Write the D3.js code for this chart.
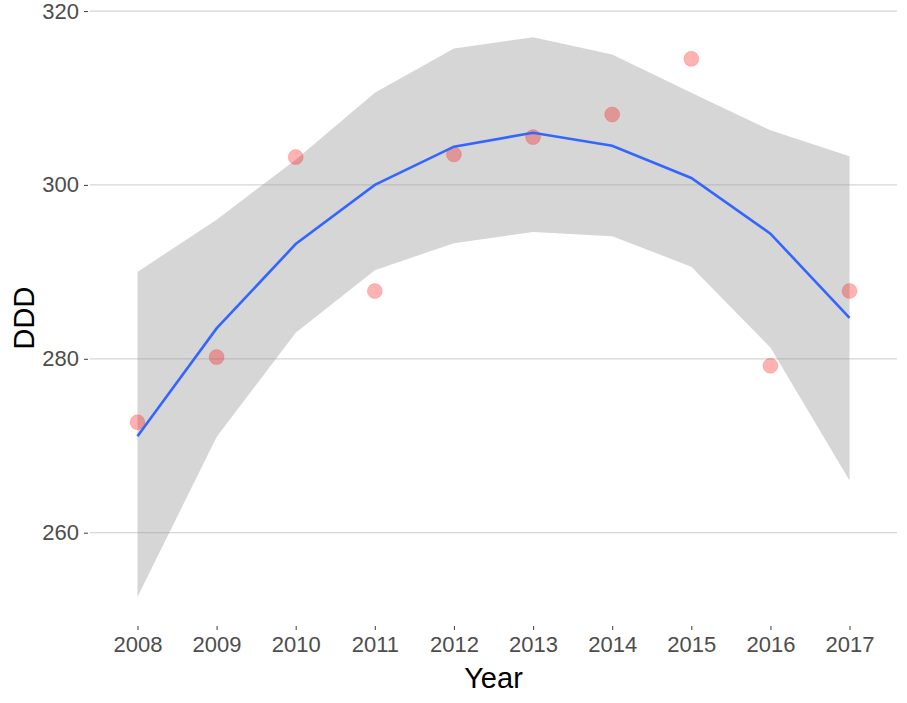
<!DOCTYPE html>
<html>
<head>
<meta charset="utf-8">
<script src="https://cdn.jsdelivr.net/npm/d3@7"></script>
<style>
  body { margin: 0; background: #fff; }
  text { font-family: "Liberation Sans", Arial, sans-serif; }
</style>
</head>
<body>
<div id="chart"></div>
<script>
// data
var years = ["2008", "2009", "2010", "2011", "2012", "2013", "2014", "2015", "2016", "2017"];
var ddd = [272.7, 280.2, 303.2, 287.8, 303.5, 305.5, 308.1, 314.5, 279.2, 287.8];
var fitLine = [271.1, 283.5, 293.2, 300.0, 304.4, 306.0, 304.5, 300.8, 294.4, 284.7];
var fitUpper = [290.0, 296.0, 302.9, 310.6, 315.7, 317.0, 315.0, 310.6, 306.3, 303.3];
var fitLower = [252.6, 271.0, 283.0, 290.2, 293.3, 294.6, 294.1, 290.6, 281.3, 266.0];
var yTicks = [260, 280, 300, 320];

var svgWidth = 907;
var svgHeight = 703;

var panel = { left: 90, right: 897, top: 0, bottom: 624 };

var svg = d3.select("#chart")
    .append("svg")
    .attr("width", svgWidth)
    .attr("height", svgHeight);

// discrete x scale with 0.6 unit padding each side like ggplot
var xScale = d3.scalePoint()
    .domain(years)
    .range([panel.left, panel.right])
    .padding(0.6);

var yScale = d3.scaleLinear()
    .domain([249.5, 321.27])
    .range([panel.bottom, panel.top]);

// gridlines
svg.append("g")
    .selectAll("line")
    .data(yTicks)
    .enter()
    .append("line")
    .attr("x1", panel.left)
    .attr("x2", panel.right)
    .attr("y1", d => yScale(d))
    .attr("y2", d => yScale(d))
    .attr("stroke", "#d6d6d6")
    .attr("stroke-width", 1.2);

// confidence band
var band = d3.area()
    .x((d, i) => xScale(years[i]))
    .y0((d, i) => yScale(fitLower[i]))
    .y1((d, i) => yScale(fitUpper[i]));

svg.append("path")
    .datum(years)
    .attr("d", band)
    .attr("fill", "#999999")
    .attr("fill-opacity", 0.4);

// points
svg.append("g")
    .selectAll("circle")
    .data(ddd)
    .enter()
    .append("circle")
    .attr("cx", (d, i) => xScale(years[i]))
    .attr("cy", d => yScale(d))
    .attr("r", 7.5)
    .attr("fill", "red")
    .attr("fill-opacity", 0.3)
    .attr("stroke", "red")
    .attr("stroke-opacity", 0.15);

// fitted line
var line = d3.line()
    .x((d, i) => xScale(years[i]))
    .y(d => yScale(d));

svg.append("path")
    .datum(fitLine)
    .attr("d", line)
    .attr("fill", "none")
    .attr("stroke", "#3366FF")
    .attr("stroke-width", 2.6);

// axes
var bottomAxis = d3.axisBottom(xScale).tickSize(4).tickPadding(6);
var leftAxis = d3.axisLeft(yScale).tickValues(yTicks).tickSize(4).tickPadding(5);

var xAxisG = svg.append("g")
    .attr("transform", `translate(0, ${panel.bottom + 2})`)
    .call(bottomAxis);

var yAxisG = svg.append("g")
    .attr("transform", `translate(${panel.left - 2}, 0)`)
    .call(leftAxis);

[xAxisG, yAxisG].forEach(function(g) {
    g.select(".domain").remove();
    g.selectAll(".tick line").attr("stroke", "#4d4d4d").attr("stroke-width", 1.1);
    g.selectAll(".tick text")
        .attr("fill", "#4d4d4d")
        .attr("font-size", "22px")
        .attr("font-family", "Liberation Sans, Arial, sans-serif");
});

// axis titles
svg.append("text")
    .attr("x", xScale("2012") + (xScale("2013") - xScale("2012")) / 2)
    .attr("y", 688)
    .attr("text-anchor", "middle")
    .attr("font-size", "29px")
    .attr("fill", "#000")
    .text("Year");

svg.append("text")
    .attr("transform", `translate(34, 318) rotate(-90)`)
    .attr("text-anchor", "middle")
    .attr("font-size", "29px")
    .attr("fill", "#000")
    .text("DDD");
</script>
</body>
</html>
